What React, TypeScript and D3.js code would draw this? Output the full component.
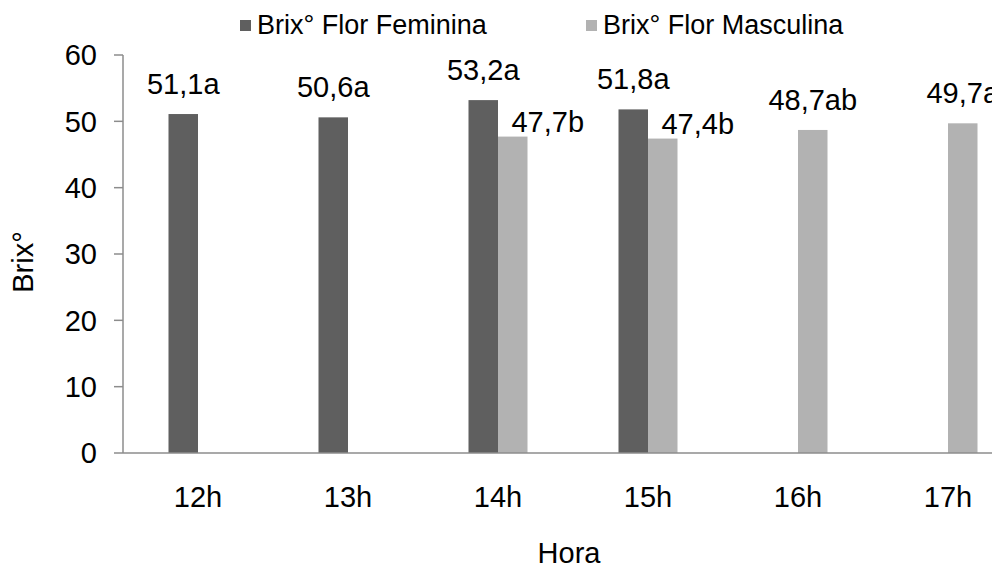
import React, { useEffect, useRef } from "react";
import * as d3 from "d3";

const categories = ["12h", "13h", "14h", "15h", "16h", "17h"];
const seriesNames = ["Brix° Flor Feminina", "Brix° Flor Masculina"];
const feminina: (number | null)[] = [51.1, 50.6, 53.2, 51.8, null, null];
const masculina: (number | null)[] = [null, null, 47.7, 47.4, 48.7, 49.7];
const femLabels = ["51,1a", "50,6a", "53,2a", "51,8a", "", ""];
const mascLabels = ["", "", "47,7b", "47,4b", "48,7ab", "49,7a"];
const yTicks = [0, 10, 20, 30, 40, 50, 60];
const colors = ["#5f5f5f", "#b2b2b2"];

const W = 992;
const H = 564;
const FONT = "Arial, 'Liberation Sans', Helvetica, sans-serif";

export default function App() {
  const ref = useRef<SVGSVGElement>(null);

  useEffect(() => {
    document.body.style.margin = "0";
    const svg = d3.select(ref.current);
    svg.selectAll("*").remove();

    const x0 = 123, x1 = 1023, yTop = 55, yBot = 453;
    const x = d3.scaleBand<string>().domain(categories).range([x0, x1]).paddingInner(0).paddingOuter(0);
    const groupW = 59;
    const xs = d3.scaleBand<string>().domain(seriesNames).range([0, groupW]);
    const y = d3.scaleLinear().domain([0, 60]).range([yBot, yTop]);

    const g = svg.append("g");

    const all = [feminina, masculina];
    const labs = [femLabels, mascLabels];
    all.forEach((vals, si) => {
      vals.forEach((v, i) => {
        if (v == null) return;
        const bx = x(categories[i])! + x.bandwidth() / 2 - groupW / 2 + xs(seriesNames[si])!;
        g.append("rect")
          .attr("x", bx)
          .attr("y", y(v))
          .attr("width", xs.bandwidth())
          .attr("height", yBot - y(v))
          .attr("fill", colors[si]);
        // Labels of the second series beside a taller first-series bar are nudged right/down (as in the source)
        const other = si === 1 ? feminina[i] : null;
        const shifted = other != null;
        g.append("text")
          .attr("x", bx + xs.bandwidth() / 2 + (shifted ? 35 : 0))
          .attr("y", y(v) - (shifted ? 5 : 20))
          .attr("text-anchor", "middle")
          .attr("font-family", FONT)
          .attr("font-size", 29)
          .attr("fill", "#000")
          .text(labs[si][i]);
      });
    });

    // axes
    g.append("line").attr("x1", x0).attr("x2", W).attr("y1", yBot).attr("y2", yBot)
      .attr("stroke", "#8c8c8c").attr("stroke-width", 1.5);
    g.append("line").attr("x1", x0).attr("x2", x0).attr("y1", yTop).attr("y2", yBot)
      .attr("stroke", "#8c8c8c").attr("stroke-width", 1.5);

    yTicks.forEach((t) => {
      g.append("line").attr("x1", x0 - 9).attr("x2", x0).attr("y1", y(t)).attr("y2", y(t))
        .attr("stroke", "#8c8c8c").attr("stroke-width", 1.5);
      g.append("text")
        .attr("x", 97)
        .attr("y", y(t))
        .attr("dy", "0.36em")
        .attr("text-anchor", "end")
        .attr("font-family", FONT)
        .attr("font-size", 29)
        .text(String(t));
    });

    categories.forEach((c) => {
      g.append("text")
        .attr("x", x(c)! + x.bandwidth() / 2)
        .attr("y", 507)
        .attr("text-anchor", "middle")
        .attr("font-family", FONT)
        .attr("font-size", 29)
        .text(c);
    });

    g.append("text")
      .attr("x", 569)
      .attr("y", 563)
      .attr("text-anchor", "middle")
      .attr("font-family", FONT)
      .attr("font-size", 29)
      .text("Hora");

    g.append("text")
      .attr("transform", `translate(33,262) rotate(-90)`)
      .attr("text-anchor", "middle")
      .attr("font-family", FONT)
      .attr("font-size", 29)
      .text("Brix°");

    // legend
    const legX = [240, 586];
    seriesNames.forEach((s, i) => {
      g.append("rect").attr("x", legX[i]).attr("y", 20).attr("width", 11).attr("height", 11).attr("fill", colors[i]);
      g.append("text")
        .attr("x", legX[i] + 17)
        .attr("y", 34)
        .attr("font-family", FONT)
        .attr("font-size", 27)
        .text(s);
    });
  }, []);

  return <svg ref={ref} width={W} height={H} style={{ display: "block", background: "#fff" }} />;
}
